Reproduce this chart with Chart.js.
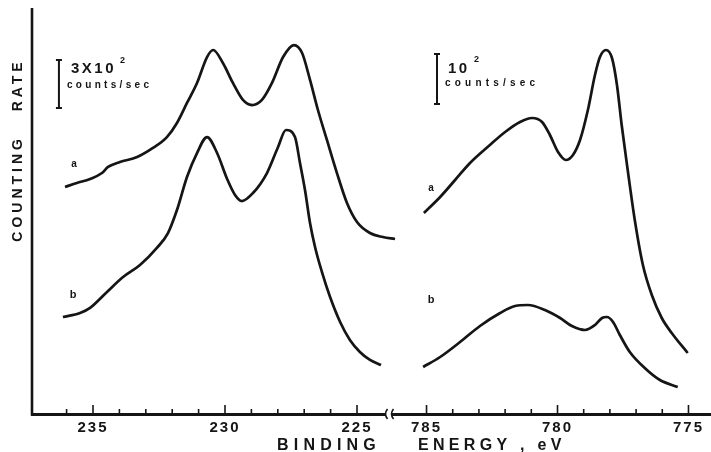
<!DOCTYPE html>
<html>
<head>
<meta charset="utf-8">
<title>Counting rate vs binding energy</title>
<script src="https://cdn.jsdelivr.net/npm/chart.js@4"></script>
<style>
  html, body { margin: 0; padding: 0; background: #fff; }
  #wrap { position: relative; width: 711px; height: 452px; overflow: hidden; background: #fff; }
  #left { position: absolute; left: 0; top: 0; }
  #right { position: absolute; left: 388px; top: 0; }
</style>
</head>
<body>
<div id="wrap">
  <canvas id="left" width="400" height="452"></canvas>
  <canvas id="right" width="323" height="452"></canvas>
</div>
<script>
// Low-energy window (eV), spectra a and b, counts/sec
const leftEnergyA = [236.06, 235.61, 235.11, 234.66, 234.43, 233.98, 233.33, 232.73, 232.20, 231.82,
  231.44, 231.06, 230.68, 230.45, 230.08, 229.70, 229.32, 228.98, 228.60, 228.22,
  227.80, 227.39, 227.08, 226.78, 226.48, 226.14, 225.76, 225.38, 225.00, 224.51, 224.02, 223.56];
const leftCountsA = [1419, 1444, 1469, 1506, 1544, 1575, 1606, 1663, 1731, 1819,
  1944, 2069, 2231, 2275, 2194, 2069, 1963, 1931, 1963, 2069,
  2231, 2306, 2256, 2088, 1900, 1713, 1506, 1319, 1200, 1131, 1106, 1094];

const leftEnergyB = [236.14, 235.49, 235.11, 234.47, 233.86, 233.22, 232.58, 232.16, 231.82, 231.44,
  231.06, 230.68, 230.30, 229.92, 229.62, 229.36, 228.94, 228.41, 227.99, 227.69,
  227.35, 227.16, 226.97, 226.78, 226.59, 226.33, 226.02, 225.64, 225.27, 224.89, 224.51, 224.09];
const leftCountsB = [606, 631, 663, 763, 856, 931, 1038, 1131, 1275, 1481,
  1631, 1731, 1631, 1469, 1369, 1331, 1381, 1506, 1669, 1775,
  1731, 1569, 1400, 1194, 1044, 888, 731, 575, 463, 388, 338, 306];

// High-energy window (eV), spectra a and b, counts/sec
const rightEnergyA = [785.10, 784.48, 783.91, 783.34, 782.58, 782.00, 781.43, 780.97, 780.59, 780.29,
  779.98, 779.68, 779.41, 779.14, 778.84, 778.57, 778.38, 778.15, 777.92, 777.73,
  777.55, 777.32, 777.05, 776.74, 776.40, 776.02, 775.64, 775.03];
const rightCountsA = [402, 434, 468, 502, 538, 564, 584, 592, 584, 558,
  524, 508, 518, 548, 608, 678, 714, 728, 712, 658,
  578, 488, 388, 298, 238, 192, 162, 122];

const rightEnergyB = [785.13, 784.48, 783.72, 782.96, 782.19, 781.62, 781.13, 780.48, 779.90, 779.45,
  778.95, 778.57, 778.30, 778.11, 777.88, 777.62, 777.24, 776.67, 776.09, 775.41];
const rightCountsB = [94, 114, 144, 176, 202, 216, 218, 208, 192, 176,
  168, 178, 192, 194, 184, 158, 124, 92, 68, 54];

// Axis ranges, tick spans and tick labels
const leftRange = [223.94, 237.31];
const rightRange = [774.14, 786.28];
const leftTickSpan = [225, 236];
const rightTickSpan = [775, 785];
const leftTickLabels = [235, 230, 225];
const rightTickLabels = [785, 780, 775];
const leftCountMax = 2525;
const rightCountMax = 808;

// Intensity scale bars: [energy, from, to] in counts/sec
const leftScaleBar = [236.29, 1912.5, 2212.5];
const rightScaleBar = [784.60, 620, 720];

const INK = '#151515';
const FONT = '"Liberation Sans", Arial, Helvetica, sans-serif';

function pairs(xs, ys) { return xs.map((v, i) => ({ x: v, y: ys[i] })); }

function spectrum(xs, ys) {
  return {
    data: pairs(xs, ys),
    borderColor: INK,
    borderWidth: 2.7,
    pointRadius: 0,
    cubicInterpolationMode: 'monotone',
    fill: false,
    clip: false
  };
}

function text(ctx, str, x, y, size, spacing, align, baseline) {
  ctx.save();
  ctx.font = 'bold ' + size + 'px ' + FONT;
  ctx.letterSpacing = spacing + 'px';
  ctx.textAlign = align || 'left';
  ctx.textBaseline = baseline || 'alphabetic';
  ctx.fillStyle = INK;
  ctx.fillText(str, x, y);
  ctx.restore();
}

function isLabelled(v, list) { return list.some(t => Math.abs(t - v) < 1e-6); }

function drawTickMarks(ctx, chart, labelled, span) {
  const xs = chart.scales.x, a = chart.chartArea;
  ctx.save();
  ctx.strokeStyle = INK;
  ctx.lineWidth = 1.6;
  xs.ticks.forEach(t => {
    if (t.value < span[0] - 1e-6 || t.value > span[1] + 1e-6) return;
    const px = xs.getPixelForValue(t.value);
    const len = isLabelled(t.value, labelled) ? 9 : 5;
    ctx.beginPath();
    ctx.moveTo(px, a.bottom);
    ctx.lineTo(px, a.bottom - len);
    ctx.stroke();
  });
  ctx.restore();
}

function drawScaleBar(ctx, chart, bar) {
  const xs = chart.scales.x, ys = chart.scales.y;
  const px = xs.getPixelForValue(bar[0]);
  const y0 = ys.getPixelForValue(bar[1]);
  const y1 = ys.getPixelForValue(bar[2]);
  ctx.save();
  ctx.strokeStyle = INK;
  ctx.lineWidth = 2;
  ctx.beginPath();
  ctx.moveTo(px, y0); ctx.lineTo(px, y1);
  ctx.moveTo(px - 3, y0); ctx.lineTo(px + 3, y0);
  ctx.moveTo(px - 3, y1); ctx.lineTo(px + 3, y1);
  ctx.stroke();
  ctx.restore();
}

// Letter-spaced tick numerals
const spacedTicks = {
  id: 'spacedTicks',
  beforeDraw(chart) { chart.ctx.letterSpacing = '2px'; },
  afterDraw(chart) { chart.ctx.letterSpacing = '0px'; }
};

const leftDecor = {
  id: 'leftDecor',
  afterDraw(chart) {
    const ctx = chart.ctx, a = chart.chartArea;
    ctx.letterSpacing = '0px';
    // vertical axis
    ctx.save();
    ctx.strokeStyle = INK;
    ctx.lineWidth = 2.6;
    ctx.beginPath();
    ctx.moveTo(a.left, a.top - 2);
    ctx.lineTo(a.left, a.bottom + 1.5);
    ctx.stroke();
    // axis break
    ctx.lineWidth = 1.6;
    [a.right + 1, a.right + 7].forEach(bx => {
      ctx.beginPath();
      ctx.moveTo(bx + 1.5, a.bottom - 5);
      ctx.quadraticCurveTo(bx - 2.5, a.bottom, bx + 1.5, a.bottom + 5);
      ctx.stroke();
    });
    ctx.restore();
    drawTickMarks(ctx, chart, leftTickLabels, leftTickSpan);
    drawScaleBar(ctx, chart, leftScaleBar);
    text(ctx, '3X10', 71, 73, 15, 2.5);
    text(ctx, '2', 120, 63, 9, 0);
    text(ctx, 'counts/sec', 67, 88, 10, 3.3);
    text(ctx, 'a', 74, 164, 10, 0, 'center', 'middle');
    text(ctx, 'b', 73, 295, 11, 0, 'center', 'middle');
    // vertical axis title
    ctx.save();
    ctx.translate(18, 150);
    ctx.rotate(-Math.PI / 2);
    text(ctx, 'COUNTING   RATE', 0, 0, 14, 4, 'center', 'middle');
    ctx.restore();
    text(ctx, 'BINDING', 277, 450, 16, 5.2);
  }
};

const rightDecor = {
  id: 'rightDecor',
  afterDraw(chart) {
    const ctx = chart.ctx;
    const off = 388;
    ctx.letterSpacing = '0px';
    drawTickMarks(ctx, chart, rightTickLabels, rightTickSpan);
    drawScaleBar(ctx, chart, rightScaleBar);
    text(ctx, '10', 448 - off, 73, 15, 2.5);
    text(ctx, '2', 474 - off, 62, 9, 0);
    text(ctx, 'counts/sec', 445 - off, 86, 10, 4.2);
    text(ctx, 'a', 431 - off, 188, 10, 0, 'center', 'middle');
    text(ctx, 'b', 431 - off, 300, 11, 0, 'center', 'middle');
    text(ctx, 'ENERGY , eV', 418 - off, 450, 16, 4.3);
  }
};

function xAxis(range, labels) {
  return {
    type: 'linear',
    reverse: true,
    min: range[0],
    max: range[1],
    grid: { display: false, drawTicks: false },
    border: { display: true, color: INK, width: 3 },
    ticks: {
      stepSize: 1,
      autoSkip: false,
      maxRotation: 0,
      includeBounds: false,
      padding: 5,
      color: INK,
      font: { family: FONT, size: 15, weight: 'bold' },
      callback: v => (isLabelled(v, labels) ? String(Math.round(v)) : '')
    },
    afterFit: s => { s.height = 38; }
  };
}

function baseOptions(padding, range, labels, ymax) {
  return {
    responsive: false,
    animation: false,
    devicePixelRatio: 1,
    layout: { padding },
    plugins: { legend: { display: false }, tooltip: { enabled: false }, title: { display: false } },
    scales: {
      x: xAxis(range, labels),
      y: { display: false, min: 0, max: ymax }
    }
  };
}

new Chart(document.getElementById('left'), {
  type: 'line',
  data: { datasets: [spectrum(leftEnergyA, leftCountsA), spectrum(leftEnergyB, leftCountsB)] },
  options: baseOptions({ left: 32, right: 15, top: 10, bottom: 0 }, leftRange, leftTickLabels, leftCountMax),
  plugins: [spacedTicks, leftDecor]
});

new Chart(document.getElementById('right'), {
  type: 'line',
  data: { datasets: [spectrum(rightEnergyA, rightCountsA), spectrum(rightEnergyB, rightCountsB)] },
  options: baseOptions({ left: 5, right: 0, top: 10, bottom: 0 }, rightRange, rightTickLabels, rightCountMax),
  plugins: [spacedTicks, rightDecor]
});
</script>
</body>
</html>
